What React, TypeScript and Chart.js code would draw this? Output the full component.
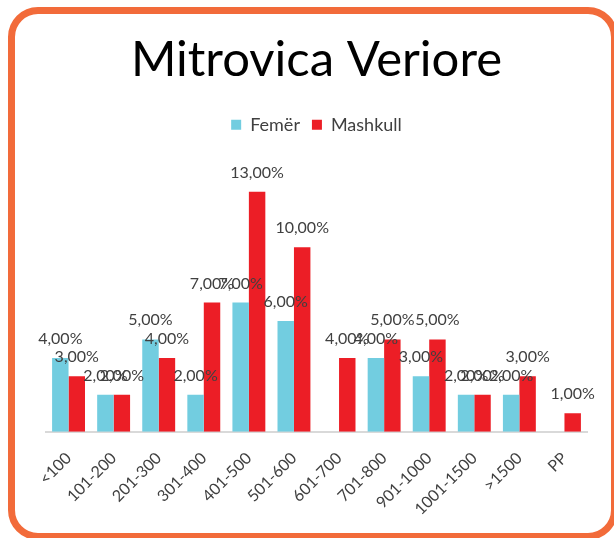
import React, { useEffect, useRef } from "react";
import { Chart, registerables } from "chart.js";

Chart.register(...registerables);

const categories = ["<100", "101-200", "201-300", "301-400", "401-500", "501-600", "601-700", "701-800", "901-1000", "1001-1500", ">1500", "PP"];
const femer = [4, 2, 5, 2, 7, 6, 0, 4, 3, 2, 2, 0];
const mashkull = [3, 2, 4, 7, 13, 10, 4, 5, 5, 2, 3, 1];
const seriesNames = ["Femër", "Mashkull"];
const titleText = "Mitrovica Veriore";

const FONT = "Lato, 'Open Sans', sans-serif";

const dataLabelPlugin = {
  id: "dataLabels",
  afterDatasetsDraw(chart: any) {
    const ctx = chart.ctx;
    ctx.save();
    ctx.font = `400 16px ${FONT}`;
    ctx.fillStyle = "#404040";
    ctx.textAlign = "center";
    ctx.textBaseline = "alphabetic";
    chart.data.datasets.forEach((ds: any, di: number) => {
      const meta = chart.getDatasetMeta(di);
      meta.data.forEach((el: any, i: number) => {
        const v = ds.data[i];
        if (!v) return;
        const txt = v.toFixed(2).replace(".", ",") + "%";
        ctx.fillText(txt, el.x, el.y - 14);
      });
    });
    ctx.restore();
  },
};

export default function App() {
  const ref = useRef<HTMLCanvasElement>(null);
  useEffect(() => {
    if (!ref.current) return;
    const chart = new Chart(ref.current, {
      type: "bar",
      data: {
        labels: categories,
        datasets: [
          { label: seriesNames[0], data: femer, backgroundColor: "#72CDE0", categoryPercentage: 0.73, barPercentage: 1 },
          { label: seriesNames[1], data: mashkull, backgroundColor: "#EC1E26", categoryPercentage: 0.73, barPercentage: 1 },
        ],
      },
      options: {
        animation: false,
        responsive: false,
        maintainAspectRatio: false,
        layout: { padding: { left: 46, right: 27, top: 31, bottom: 10 } },
        plugins: {
          title: {
            display: true,
            text: titleText,
            color: "#000000",
            font: { family: FONT, size: 49, weight: "normal" as any },
            padding: { top: 0, bottom: 14 },
          },
          legend: {
            display: true,
            position: "top",
            labels: {
              color: "#404040",
              font: { family: FONT, size: 18 },
              boxWidth: 10,
              boxHeight: 10,
              padding: 12,
            },
          },
          tooltip: { enabled: false },
        },
        scales: {
          x: {
            grid: { display: false },
            border: { display: true, color: "#D9D9D9", width: 2 },
            ticks: {
              color: "#404040",
              font: { family: FONT, size: 16 },
              minRotation: 45,
              maxRotation: 45,
              padding: 9,
              autoSkip: false,
            },
          },
          y: {
            display: false,
            min: 0,
            max: 15.6,
          },
        },
      },
      plugins: [dataLabelPlugin],
    });
    return () => chart.destroy();
  }, []);
  return (
    <div style={{ position: "absolute", left: 0, top: 0, width: 614, height: 538, overflow: "hidden", background: "#fff" }}>
      <div
        style={{
          position: "absolute",
          left: 8,
          top: 7,
          width: 610,
          height: 533,
          border: "7px solid #F26B3A",
          borderRadius: 30,
          boxSizing: "border-box",
        }}
      />
      <canvas ref={ref} width={614} height={538} style={{ position: "absolute", left: 0, top: 0, width: 614, height: 538 }} />
    </div>
  );
}
